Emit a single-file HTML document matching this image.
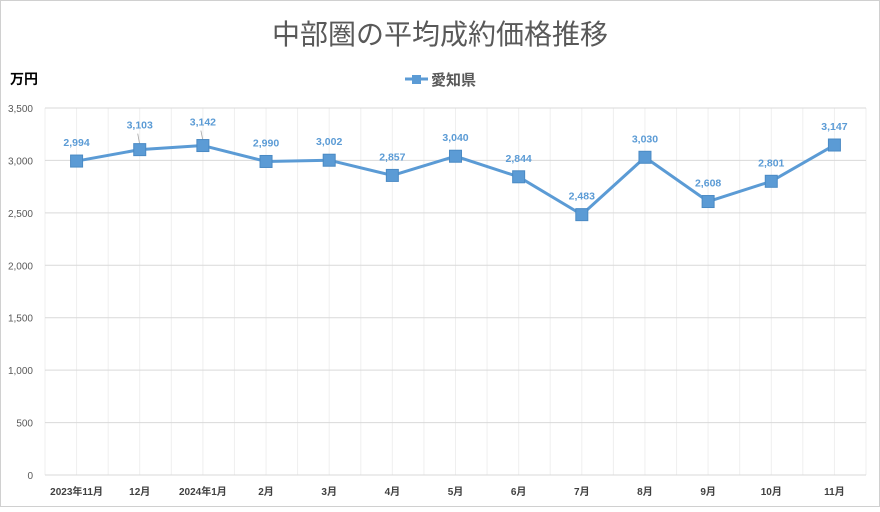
<!DOCTYPE html>
<html><head><meta charset="utf-8"><style>
body{margin:0;background:#fff}
svg text{font-family:"Liberation Sans","Noto Sans CJK JP",sans-serif}
</style></head><body>
<svg width="880" height="507" xmlns="http://www.w3.org/2000/svg">
<rect x="0.5" y="0.5" width="879" height="506" fill="#fff" stroke="#d0d0d0"/>
<text x="440" y="44" text-anchor="middle" font-size="28" fill="#595959">中部圏の平均成約価格推移</text>
<text x="10" y="84" font-size="14" font-weight="bold" fill="#000">万円</text>
<g>
<line x1="405" y1="79" x2="428" y2="79" stroke="#5b9bd5" stroke-width="3"/>
<rect x="412" y="75" width="9" height="9" fill="#5b9bd5"/>
<text x="431" y="85" font-size="15" font-weight="bold" fill="#595959">愛知県</text>
</g>
<g id="grid"></g><g id="axes"></g><g id="series"></g>
</svg>
<script>
const categories=["2023年11月","12月","2024年1月","2月","3月","4月","5月","6月","7月","8月","9月","10月","11月"];
const values=[2994,3103,3142,2990,3002,2857,3040,2844,2483,3030,2608,2801,3147];
const yTicks=[0,500,1000,1500,2000,2500,3000,3500];
const NS="http://www.w3.org/2000/svg";
const L=45,R=866,T=108,B=475,yMax=3500;
const band=(R-L)/categories.length;
const xs=i=>L+band*(i+0.5);
const ys=v=>B-(v/yMax)*(B-T);
function mk(t,a,p){const e=document.createElementNS(NS,t);for(const k in a)e.setAttribute(k,a[k]);p.appendChild(e);return e;}
const grid=document.getElementById('grid'),axes=document.getElementById('axes'),ser=document.getElementById('series');
for(let i=0;i<=categories.length*2;i++){
 const x=L+band*i/2;
 const g=mk('line',{x1:x,x2:x,y1:T,y2:B,stroke:'#efefef','stroke-width':1},grid);
 
 
}
yTicks.forEach(v=>{
 const y=ys(v);
 const g=mk('line',{x1:L,x2:R,y1:y,y2:y,stroke:'#d9d9d9','stroke-width':1},grid);
 
 
 const t=mk('text',{x:33,y:y+4,'text-anchor':'end','font-size':10,fill:'#595959'},axes);
 t.textContent=v.toLocaleString('en-US');
 
 
});
categories.forEach((c,i)=>{
 const t=mk('text',{x:xs(i),y:495,'text-anchor':'middle','font-size':10,'font-weight':'bold',fill:'#404040'},axes);
 t.textContent=c;
 
 
});
const pl=mk('polyline',{points:values.map((v,i)=>xs(i)+','+ys(v)).join(' '),fill:'none',stroke:'#5b9bd5','stroke-width':3,'stroke-linejoin':'round'},ser);


const lift=[0,6,5,0,0,0,0,0,0,0,0,0,0];
values.forEach((v,i)=>{
 const x=xs(i),y=ys(v);
 if(lift[i]){
  const ld=mk('line',{x1:x-2,y1:y-14-lift[i]+4,x2:x,y2:y-5,stroke:'#a6a6a6','stroke-width':0.8},ser);
  
  
 }
 const m=mk('rect',{x:x-6,y:y-6,width:12,height:12,fill:'#5b9bd5',stroke:'#4a8ac4','stroke-width':1},ser);
 
 
 const t=mk('text',{x:x,y:y-15-lift[i],'text-anchor':'middle','font-size':10.5,'font-weight':'bold',fill:'#5b9bd5'},ser);
 t.textContent=v.toLocaleString('en-US');
 
 
});
</script>
</body></html>
